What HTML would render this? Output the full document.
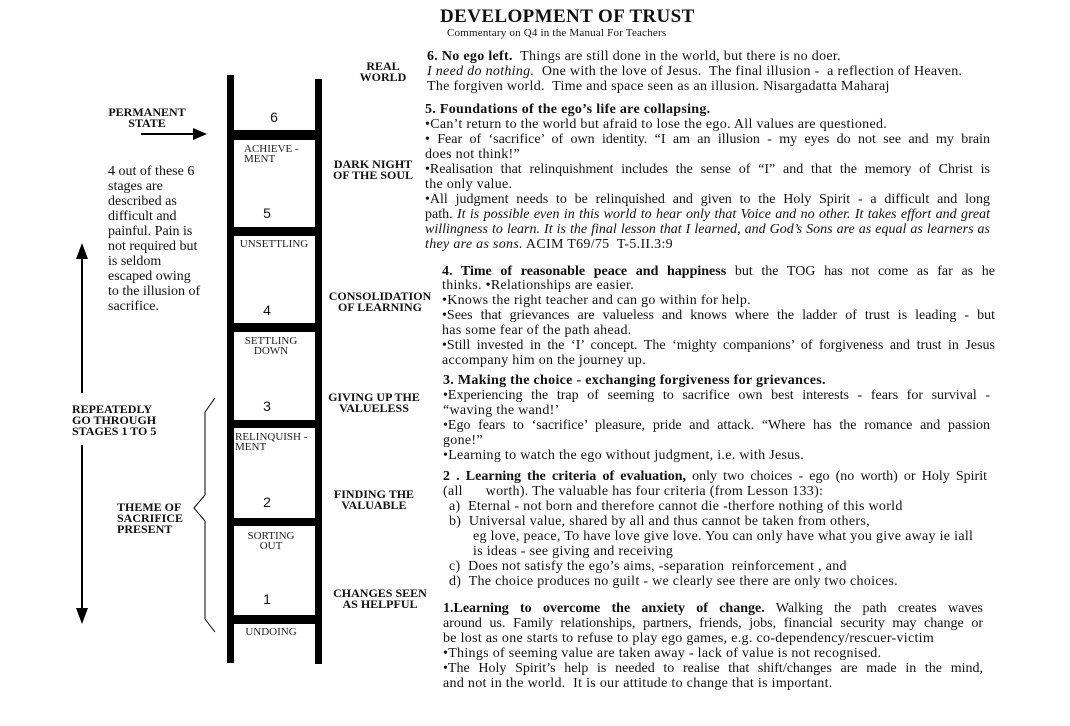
<!DOCTYPE html>
<html><head><meta charset="utf-8"><style>
body{margin:0;background:#fff;width:1070px;height:726px;position:relative;overflow:hidden;font-family:"Liberation Serif",serif;color:#111}
.a{position:absolute;white-space:nowrap}
.l{position:absolute;font-size:14px;letter-spacing:0.3px;line-height:15px;white-space:nowrap}
.j{text-align:justify;text-align-last:justify;white-space:normal;letter-spacing:0}
.lb{position:absolute;font-weight:bold;font-size:12px;line-height:11px;text-align:center;white-space:nowrap}
.st{position:absolute;font-size:11px;line-height:10px;text-align:center;color:#222}
.n{position:absolute;font-family:"Liberation Sans",sans-serif;font-size:14px;width:86px;text-align:center}
.bar{position:absolute;background:#000}
i{font-style:italic}
</style></head><body>
<div class="a" style="left:440px;top:6px;font-weight:bold;font-size:19px;letter-spacing:0.4px">DEVELOPMENT OF TRUST</div>
<div class="a" style="left:447px;top:27px;font-size:11px;letter-spacing:0.2px">Commentary on Q4 in the Manual For Teachers</div>

<div class="bar" style="left:227px;top:75px;width:7px;height:588px"></div>
<div class="bar" style="left:315px;top:79px;width:7px;height:585px"></div>
<div class="bar" style="left:227px;top:130px;width:95px;height:10px"></div>
<div class="bar" style="left:227px;top:227px;width:95px;height:9px"></div>
<div class="bar" style="left:227px;top:323px;width:95px;height:9px"></div>
<div class="bar" style="left:227px;top:420px;width:95px;height:8px"></div>
<div class="bar" style="left:227px;top:518px;width:95px;height:8px"></div>
<div class="bar" style="left:227px;top:615px;width:95px;height:9px"></div>

<div class="n" style="left:231px;top:109px">6</div>
<div class="n" style="left:224px;top:205px">5</div>
<div class="n" style="left:224px;top:302px">4</div>
<div class="n" style="left:224px;top:398px">3</div>
<div class="n" style="left:224px;top:494px">2</div>
<div class="n" style="left:224px;top:591px">1</div>

<div class="st" style="left:236px;top:144px;width:70px;text-align:left;padding-left:8px">ACHIEVE -<br>MENT</div>
<div class="st" style="left:234px;top:239px;width:80px">UNSETTLING</div>
<div class="st" style="left:234px;top:336px;width:74px">SETTLING<br>DOWN</div>
<div class="st" style="left:235px;top:432px;width:80px;text-align:left">RELINQUISH -<br>MENT</div>
<div class="st" style="left:234px;top:531px;width:74px">SORTING<br>OUT</div>
<div class="st" style="left:234px;top:627px;width:74px">UNDOING</div>

<div class="lb" style="left:347px;top:61px;width:72px">REAL<br>WORLD</div>
<div class="lb" style="left:325px;top:159px;width:96px">DARK NIGHT<br>OF THE SOUL</div>
<div class="lb" style="left:322px;top:291px;width:116px">CONSOLIDATION<br>OF LEARNING</div>
<div class="lb" style="left:324px;top:392px;width:100px">GIVING UP THE<br>VALUELESS</div>
<div class="lb" style="left:328px;top:489px;width:92px">FINDING THE<br>VALUABLE</div>
<div class="lb" style="left:332px;top:588px;width:96px">CHANGES SEEN<br>AS HELPFUL</div>

<div class="lb" style="left:98px;top:107px;width:98px">PERMANENT<br>STATE</div>
<svg style="position:absolute;left:0;top:0" width="240" height="726">
<line x1="141" y1="134" x2="196" y2="134" stroke="#000" stroke-width="2"/>
<polygon points="207,134 193,128 193,140" fill="#000"/>
<line x1="82" y1="259" x2="82" y2="393" stroke="#000" stroke-width="2"/>
<polygon points="82,243 76,259 88,259" fill="#000"/>
<line x1="82" y1="445" x2="82" y2="610" stroke="#000" stroke-width="2"/>
<polygon points="82,624 76,608 88,608" fill="#000"/>
<path d="M215,398 L205,412 L205,495 L194,508 L205,521 L205,619 L215,632" fill="none" stroke="#000" stroke-width="1"/>
</svg>
<div class="a" style="left:108px;top:164px;font-size:14px;line-height:15px">4 out of these 6<br>stages are<br>described as<br>difficult and<br>painful. Pain is<br>not required but<br>is seldom<br>escaped owing<br>to the illusion of<br>sacrifice.</div>
<div class="lb" style="left:72px;top:404px;text-align:left">REPEATEDLY<br>GO THROUGH<br>STAGES 1 TO 5</div>
<div class="lb" style="left:117px;top:502px;text-align:left">THEME OF<br>SACRIFICE<br>PRESENT</div>

<div class="l" style="left:427px;top:49px"><b>6. No ego left.</b>&nbsp; Things are still done in the world, but there is no doer.</div>
<div class="l" style="left:427px;top:64px"><i>I need do nothing.</i>&nbsp; One with the love of Jesus.&nbsp; The final illusion -&nbsp; a reflection of Heaven.</div>
<div class="l" style="left:427px;top:79px">The forgiven world.&nbsp; Time and space seen as an illusion. Nisargadatta Maharaj</div>

<div class="l" style="left:425px;top:102px"><b>5. Foundations of the ego’s life are collapsing.</b></div>
<div class="l" style="left:425px;top:117px">•Can’t return to the world but afraid to lose the ego. All values are questioned.</div>
<div class="l j" style="left:425px;top:132px;width:565px">• Fear of ‘sacrifice’ of own identity. “I am an illusion - my eyes do not see and my brain</div>
<div class="l" style="left:425px;top:147px">does not think!”</div>
<div class="l j" style="left:425px;top:162px;width:565px">•Realisation that relinquishment includes the sense of “I” and that the memory of Christ is</div>
<div class="l" style="left:425px;top:177px">the only value.</div>
<div class="l j" style="left:425px;top:192px;width:565px">•All judgment needs to be relinquished and given to the Holy Spirit - a difficult and long</div>
<div class="l j" style="left:425px;top:207px;width:565px">path. <i>It is possible even in this world to hear only that Voice and no other. It takes effort and great</i></div>
<div class="l j" style="left:425px;top:222px;width:565px"><i>willingness to learn. It is the final lesson that I learned, and God’s Sons are as equal as learners as</i></div>
<div class="l" style="left:425px;top:237px"><i>they are as sons.</i> ACIM T69/75&nbsp; T-5.II.3:9</div>

<div class="l j" style="left:442px;top:264px;width:553px"><b>4. Time of reasonable peace and happiness</b> but the TOG has not come as far as he</div>
<div class="l" style="left:442px;top:278px">thinks. •Relationships are easier.</div>
<div class="l" style="left:442px;top:293px">•Knows the right teacher and can go within for help.</div>
<div class="l j" style="left:442px;top:308px;width:553px">•Sees that grievances are valueless and knows where the ladder of trust is leading - but</div>
<div class="l" style="left:442px;top:323px">has some fear of the path ahead.</div>
<div class="l j" style="left:442px;top:338px;width:553px">•Still invested in the ‘I’ concept. The ‘mighty companions’ of forgiveness and trust in Jesus</div>
<div class="l" style="left:442px;top:353px">accompany him on the journey up.</div>

<div class="l" style="left:443px;top:373px"><b>3. Making the choice - exchanging forgiveness for grievances.</b></div>
<div class="l j" style="left:443px;top:388px;width:547px">•Experiencing the trap of seeming to sacrifice own best interests - fears for survival -</div>
<div class="l" style="left:443px;top:403px">“waving the wand!’</div>
<div class="l j" style="left:443px;top:418px;width:547px">•Ego fears to ‘sacrifice’ pleasure, pride and attack. “Where has the romance and passion</div>
<div class="l" style="left:443px;top:433px">gone!”</div>
<div class="l" style="left:443px;top:448px">•Learning to watch the ego without judgment, i.e. with Jesus.</div>

<div class="l j" style="left:443px;top:469px;width:544px"><b>2 . Learning the criteria of evaluation,</b> only two choices - ego (no worth) or Holy Spirit</div>
<div class="l" style="left:443px;top:484px">(all&nbsp;&nbsp;&nbsp;&nbsp;&nbsp; worth). The valuable has four criteria (from Lesson 133):</div>
<div class="l" style="left:449px;top:499px">a)&nbsp; Eternal - not born and therefore cannot die -therfore nothing of this world</div>
<div class="l" style="left:449px;top:514px">b)&nbsp; Universal value, shared by all and thus cannot be taken from others,</div>
<div class="l" style="left:473px;top:529px">eg love, peace, To have love give love. You can only have what you give away ie iall</div>
<div class="l" style="left:473px;top:544px">is ideas - see giving and receiving</div>
<div class="l" style="left:449px;top:559px">c)&nbsp; Does not satisfy the ego’s aims, -separation&nbsp; reinforcement , and</div>
<div class="l" style="left:449px;top:574px">d)&nbsp; The choice produces no guilt - we clearly see there are only two choices.</div>

<div class="l j" style="left:443px;top:601px;width:540px"><b>1.Learning to overcome the anxiety of change.</b> Walking the path creates waves</div>
<div class="l j" style="left:443px;top:616px;width:540px">around us. Family relationships, partners, friends, jobs, financial security may change or</div>
<div class="l" style="left:443px;top:631px">be lost as one starts to refuse to play ego games, e.g. co-dependency/rescuer-victim</div>
<div class="l" style="left:443px;top:646px">•Things of seeming value are taken away - lack of value is not recognised.</div>
<div class="l j" style="left:443px;top:661px;width:540px">•The Holy Spirit’s help is needed to realise that shift/changes are made in the mind,</div>
<div class="l" style="left:443px;top:676px">and not in the world.&nbsp; It is our attitude to change that is important.</div>
</body></html>
